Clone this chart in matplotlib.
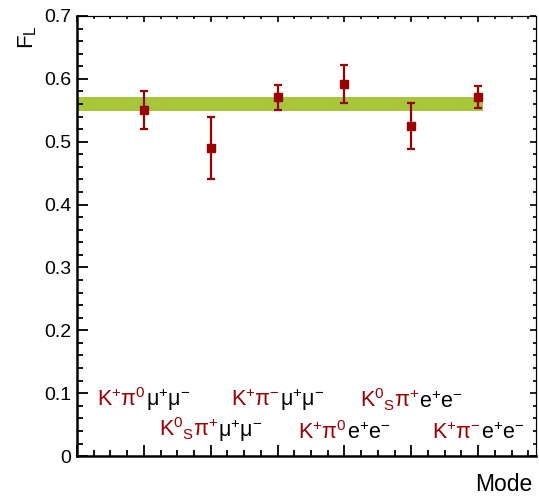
import numpy as np
import matplotlib.pyplot as plt
from matplotlib.offsetbox import TextArea, HPacker, AnnotationBbox
from matplotlib.ticker import MultipleLocator

plt.rcParams['font.family'] = ['Liberation Sans', 'DejaVu Sans']
plt.rcParams['mathtext.fontset'] = 'custom'
plt.rcParams['mathtext.rm'] = 'Liberation Sans'
plt.rcParams['mathtext.it'] = 'Liberation Sans'

# measured F_L per decay mode
modes = [1, 2, 3, 4, 5, 6]
fl = [0.550, 0.490, 0.571, 0.592, 0.525, 0.571]
fl_err = [0.030, 0.050, 0.020, 0.030, 0.037, 0.017]
avg_fl = 0.560
avg_err = 0.011

# mode labels: (hadron part in red, lepton part in black)
hadrons = [r'$\mathregular{K^{+}\pi^{0}}$', r'$\mathregular{K^{0}{}_{S}\pi^{+}}$',
           r'$\mathregular{K^{+}\pi^{-}}$', r'$\mathregular{K^{+}\pi^{0}}$',
           r'$\mathregular{K^{0}{}_{S}\pi^{+}}$', r'$\mathregular{K^{+}\pi^{-}}$']
leptons = [r'$\mathregular{\mu^{+}\mu^{-}}$', r'$\mathregular{\mu^{+}\mu^{-}}$',
           r'$\mathregular{\mu^{+}\mu^{-}}$', r'$\mathregular{e^{+}e^{-}}$',
           r'$\mathregular{e^{+}e^{-}}$', r'$\mathregular{e^{+}e^{-}}$']
label_y = [0.068, 0.020, 0.068, 0.020, 0.068, 0.020]

red = '#990000'

fig = plt.figure(figsize=(5.39, 4.99), dpi=100)
ax = fig.add_axes([0.143, 0.086, 0.852, 0.882])

ax.fill_between([0, 6.07], avg_fl - avg_err, avg_fl + avg_err, color='#a8c63a', lw=0, zorder=1)
ax.errorbar(modes, fl, yerr=fl_err, fmt='s', color=red, ms=6, elinewidth=1.6,
            capsize=3, capthick=1.6, zorder=3)

for x, h, l, y in zip(modes, hadrons, leptons, label_y):
    parts = [TextArea(h, textprops=dict(color=red, fontsize=15.5)),
             TextArea(l, textprops=dict(color='black', fontsize=15.5))]
    box = HPacker(children=parts, align='baseline', pad=0, sep=0)
    ab = AnnotationBbox(box, (x, y), xycoords='data', box_alignment=(0.5, 0.0),
                        frameon=False, pad=0)
    ax.add_artist(ab)

ax.set_xlim(0, 6.87)
ax.set_ylim(0, 0.7)
ax.xaxis.set_major_locator(MultipleLocator(1))
ax.xaxis.set_minor_locator(MultipleLocator(0.25))
ax.yaxis.set_major_locator(MultipleLocator(0.1))
ax.yaxis.set_minor_locator(MultipleLocator(0.02))
ax.set_yticks(np.arange(0, 0.71, 0.1))
ax.set_yticklabels(['0', '0.1', '0.2', '0.3', '0.4', '0.5', '0.6', '0.7'])
ax.tick_params(which='both', direction='in', labelsize=14, width=1.3)
ax.tick_params(which='major', length=8)
ax.tick_params(which='minor', length=4)
ax.tick_params(axis='x', labelbottom=False)
ax.tick_params(axis='y', pad=4)

ax.spines['left'].set_linewidth(1.8)
ax.spines['bottom'].set_linewidth(1.8)
ax.spines['top'].set_linewidth(0.8)
ax.spines['right'].set_linewidth(0.8)

top = ax.secondary_xaxis('top')
top.xaxis.set_major_locator(MultipleLocator(1))
top.xaxis.set_minor_locator(MultipleLocator(0.25))
top.tick_params(which='both', direction='in', labeltop=False, width=1.2)
top.tick_params(which='major', length=4)
top.tick_params(which='minor', length=2)
top.spines['top'].set_linewidth(0.8)

right = ax.secondary_yaxis('right')
right.yaxis.set_major_locator(MultipleLocator(0.1))
right.yaxis.set_minor_locator(MultipleLocator(0.02))
right.tick_params(which='both', direction='in', labelright=False, width=1.2)
right.tick_params(which='major', length=4)
right.tick_params(which='minor', length=2)
right.spines['right'].set_linewidth(0.8)

fig.text(0.052, 0.925, r'F$_\mathregular{L}$', rotation=90, fontsize=16, ha='center', va='center')
fig.text(0.987, 0.03, 'Mode', fontsize=16.5, ha='right', va='center')

fig.savefig('out.png', dpi=100)
